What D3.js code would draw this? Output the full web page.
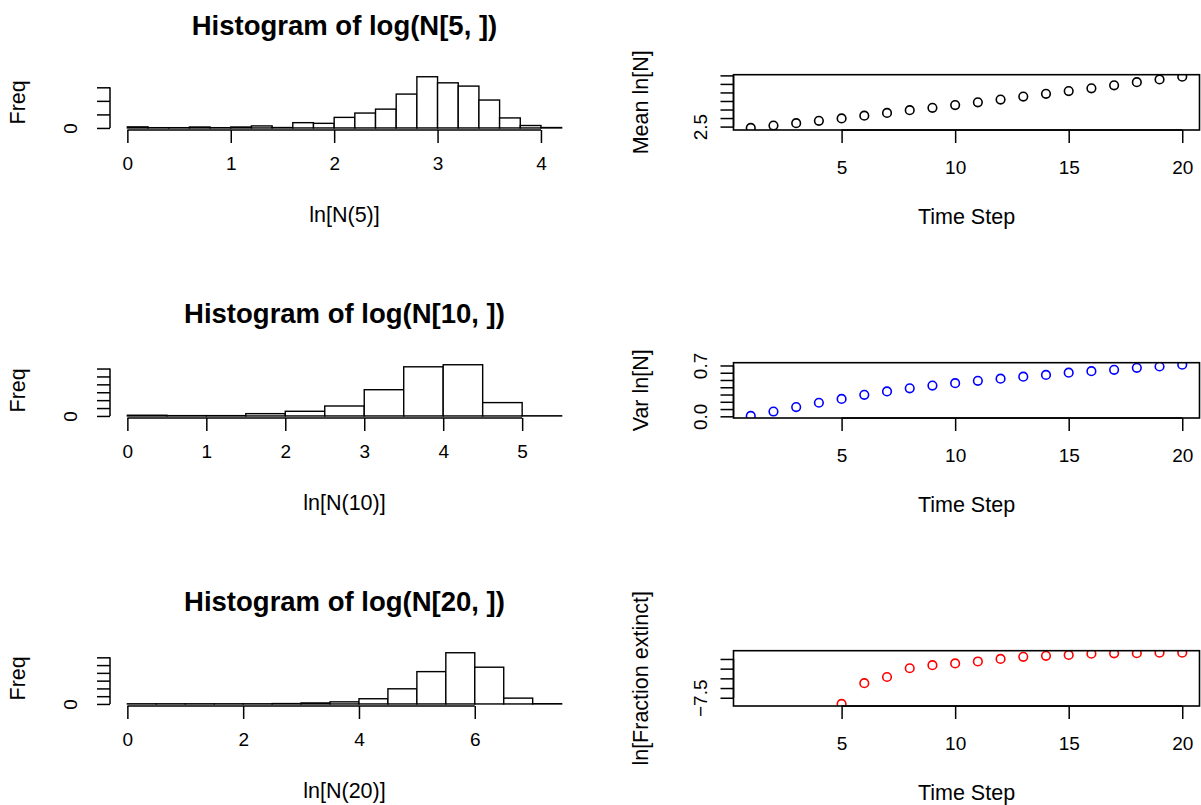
<!DOCTYPE html>
<html>
<head>
<meta charset="utf-8">
<script src="https://cdn.jsdelivr.net/npm/d3@7"></script>
<style>
body { margin: 0; background: #fff; }
svg { display: block; background: #fff; }
svg text { font-family: "Liberation Sans", Arial, Helvetica, sans-serif; font-size: 19px; fill: #000; }
svg text.lab { font-size: 21.5px; }
svg text.title { font-size: 27.5px; font-weight: bold; }
</style>
</head>
<body>
<svg id="chart" width="1201" height="805"></svg>
<script>
// histogram counts, one per bin, bins start at 0
var counts5 = [8, 2, 2, 7, 2, 7, 15, 3, 39, 34, 78, 110, 139, 250, 378, 333, 309, 206, 74, 18, 3]
var counts10 = [9, 4, 4, 29, 59, 126, 332, 622, 648, 169, 2]
var counts20 = [2, 2, 2, 2, 2, 5, 13, 27, 67, 195, 416, 659, 473, 75, 3]
var binWidths = [0.2, 0.5, 0.5]

var xTicks5 = [0, 1, 2, 3, 4]
var xTicks10 = [0, 1, 2, 3, 4, 5]
var xTicks20 = [0, 2, 4, 6]
var freqTicks5 = [0, 100, 200, 300]
var freqTicks10 = [0, 100, 200, 300, 400, 500, 600]
var freqTicks20 = [0, 100, 200, 300, 400, 500, 600]

var timeSteps = [1, 2, 3, 4, 5, 6, 7, 8, 9, 10, 11, 12, 13, 14, 15, 16, 17, 18, 19, 20]
var meanLnN = [2.42, 2.56, 2.70, 2.84, 2.98, 3.14, 3.30, 3.46, 3.60, 3.76, 3.92, 4.08, 4.26, 4.42, 4.58, 4.74, 4.92, 5.10, 5.26, 5.42]
var varLnN = [0.005, 0.066, 0.127, 0.187, 0.240, 0.296, 0.343, 0.385, 0.423, 0.456, 0.489, 0.518, 0.546, 0.570, 0.601, 0.621, 0.640, 0.667, 0.686, 0.710]
var lnFracExtinct = [null, null, null, null, -7.82, -6.75, -6.43, -5.98, -5.82, -5.73, -5.63, -5.50, -5.39, -5.34, -5.29, -5.23, -5.21, -5.20, -5.18, -5.18]

var timeTicks = [5, 10, 15, 20]
var meanTicks = [2.5, 3, 3.5, 4, 4.5, 5, 5.5]
var varTicks = [0, 0.1, 0.2, 0.3, 0.4, 0.5, 0.6, 0.7]
var fracTicks = [-7.5, -7, -6.5, -6, -5.5]

var svg = d3.select('#chart')
var rowGap = 288
var plotTop = 74.7, plotBottom = 130
var leftRange = [110, 579], rightRange = [733.5, 1199.5]
var lw = 1.5

function styleAxis(ax) {
  ax.select('.domain').remove()
  ax.selectAll('.tick line').attr('stroke-width', lw)
  ax.selectAll('text').attr('fill', null)
}

function bottomAxis(g, x, ticks, yPos, labelOff) {
  var ax = g.append('g').attr('transform', `translate(0,${yPos})`)
    .call(d3.axisBottom(x).tickValues(ticks).tickSize(13).tickFormat(d3.format('d')))
  styleAxis(ax)
  ax.selectAll('text').attr('y', labelOff).attr('dy', null).attr('dominant-baseline', 'central')
  ax.append('line')
    .attr('x1', x(ticks[0])).attr('x2', x(ticks[ticks.length - 1]))
    .attr('stroke', '#000').attr('stroke-width', lw)
}

function leftAxis(g, y, ticks, shown, fmt, xPos, labelOff) {
  var ax = g.append('g').attr('transform', `translate(${xPos},0)`)
    .call(d3.axisLeft(y).tickValues(ticks).tickSize(13)
      .tickFormat(d => shown.indexOf(d) > -1 ? fmt(d) : ''))
  styleAxis(ax)
  ax.selectAll('text').attr('x', null).attr('dy', null)
    .attr('text-anchor', 'middle').attr('dominant-baseline', 'central')
    .attr('transform', `translate(${-labelOff},0) rotate(-90)`)
  ax.append('line')
    .attr('y1', y(ticks[0])).attr('y2', y(ticks[ticks.length - 1]))
    .attr('stroke', '#000').attr('stroke-width', lw)
}

function rotText(g, x, y, txt) {
  g.append('text').attr('class', 'lab').attr('transform', `translate(${x},${y}) rotate(-90)`)
    .attr('text-anchor', 'middle').attr('dominant-baseline', 'central').text(txt)
}

function drawHist(row, counts, binWidth, xTicks, yTicks, title, xlab) {
  var off = row * rowGap
  var xMax = counts.length * binWidth
  var yMax = d3.max(counts)
  var x = d3.scaleLinear().domain([-0.04 * xMax, 1.04 * xMax]).range(leftRange)
  var y = d3.scaleLinear().domain([-0.04 * yMax, 1.04 * yMax]).range([plotBottom + off, plotTop + off])
  var g = svg.append('g')

  g.selectAll('rect.bar').data(counts).join('rect').attr('class', 'bar')
    .attr('x', (d, i) => x(i * binWidth))
    .attr('width', x(binWidth) - x(0))
    .attr('y', d => y(d))
    .attr('height', d => y(0) - y(d))
    .attr('fill', '#fff').attr('stroke', '#000').attr('stroke-width', 1.4)

  bottomAxis(g, x, xTicks, plotBottom + off, 33)
  leftAxis(g, y, yTicks, [0], d3.format('d'), leftRange[0], 40)

  var cx = (leftRange[0] + leftRange[1]) / 2
  g.append('text').attr('class', 'title').attr('x', cx).attr('y', 25 + off)
    .attr('text-anchor', 'middle').attr('dominant-baseline', 'central').text(title)
  g.append('text').attr('class', 'lab').attr('x', cx).attr('y', 215 + off)
    .attr('text-anchor', 'middle').attr('dominant-baseline', 'central').text(xlab)
  rotText(g, 18, (plotTop + plotBottom) / 2 + off, 'Freq')
}

function drawSeries(row, values, color, yTicks, shown, fmt, ylab) {
  var off = row * rowGap
  var pts = timeSteps.map((t, i) => ({t: t, v: values[i]})).filter(d => d.v != null)
  var x = d3.scaleLinear().domain([0.24, 20.76]).range(rightRange)
  var ext = d3.extent(pts, d => d.v)
  var pad = 0.04 * (ext[1] - ext[0])
  var y = d3.scaleLinear().domain([ext[0] - pad, ext[1] + pad]).range([plotBottom + off, plotTop + off])
  var g = svg.append('g')

  var clipId = 'clip' + row
  g.append('clipPath').attr('id', clipId).append('rect')
    .attr('x', rightRange[0]).attr('y', plotTop + off)
    .attr('width', rightRange[1] - rightRange[0]).attr('height', plotBottom - plotTop)

  g.append('g').attr('clip-path', `url(#${clipId})`)
    .selectAll('circle').data(pts).join('circle')
    .attr('cx', d => x(d.t)).attr('cy', d => y(d.v)).attr('r', 4.3)
    .attr('fill', 'none').attr('stroke', color).attr('stroke-width', 1.6)

  g.append('rect')
    .attr('x', rightRange[0]).attr('y', plotTop + off)
    .attr('width', rightRange[1] - rightRange[0]).attr('height', plotBottom - plotTop)
    .attr('fill', 'none').attr('stroke', '#000').attr('stroke-width', 1.6)

  bottomAxis(g, x, timeTicks, plotBottom + off, 37)
  leftAxis(g, y, yTicks, shown, fmt, rightRange[0], 33.5)

  g.append('text').attr('class', 'lab').attr('x', (rightRange[0] + rightRange[1]) / 2).attr('y', 217 + off)
    .attr('text-anchor', 'middle').attr('dominant-baseline', 'central').text('Time Step')
  rotText(g, 641, (plotTop + plotBottom) / 2 + off, ylab)
}

drawHist(0, counts5, binWidths[0], xTicks5, freqTicks5, 'Histogram of log(N[5, ])', 'ln[N(5)]')
drawHist(1, counts10, binWidths[1], xTicks10, freqTicks10, 'Histogram of log(N[10, ])', 'ln[N(10)]')
drawHist(2, counts20, binWidths[2], xTicks20, freqTicks20, 'Histogram of log(N[20, ])', 'ln[N(20)]')

drawSeries(0, meanLnN, '#000', meanTicks, [2.5], d3.format('.1f'), 'Mean ln[N]')
drawSeries(1, varLnN, '#0000ff', varTicks, [0, 0.7], d3.format('.1f'), 'Var ln[N]')
drawSeries(2, lnFracExtinct, '#ff0000', fracTicks, [-7.5], d3.format('.1f'), 'ln[Fraction extinct]')
</script>
</body>
</html>
